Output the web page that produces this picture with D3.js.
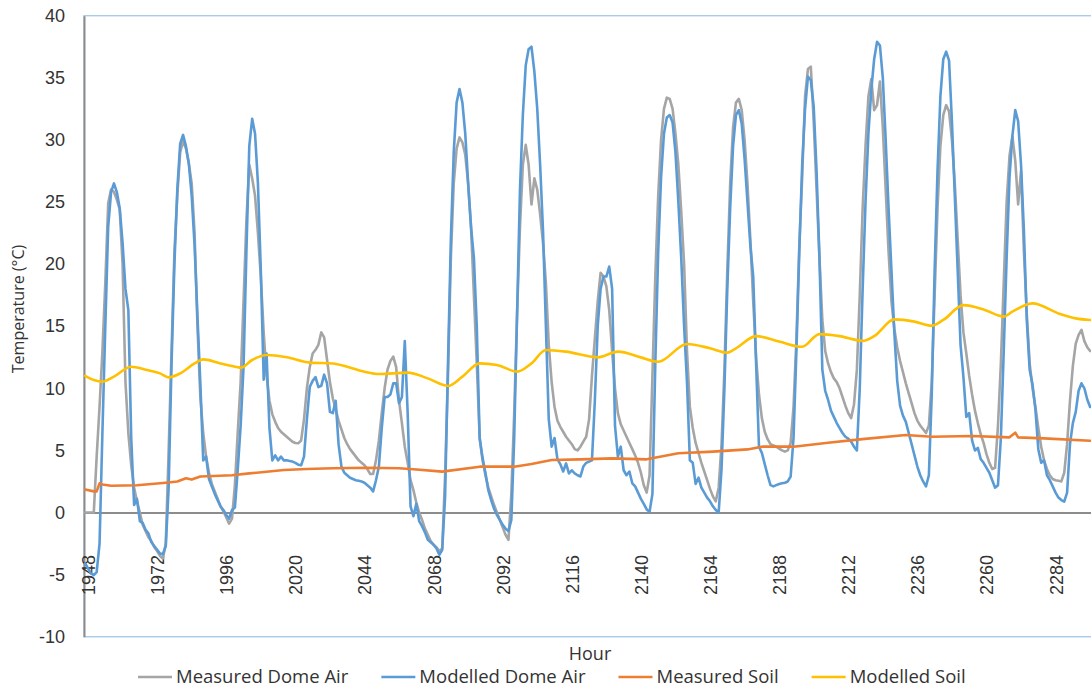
<!DOCTYPE html>
<html>
<head>
<meta charset="utf-8">
<script src="https://cdn.jsdelivr.net/npm/d3@7"></script>
<style>
  html, body { margin: 0; padding: 0; background: #fff; }
  svg { display: block; font-family: "Open Sans", "Segoe UI", "Liberation Sans", sans-serif; }
</style>
</head>
<body>
<svg id="chart" width="1091" height="689"></svg>
<script>
// ---- data -------------------------------------------------------------
// Hourly readings start at this hour; each air value is one hour apart.
const firstHour = 1947;

const hourTicks = [1948, 1972, 1996, 2020, 2044, 2068, 2092, 2116, 2140, 2164, 2188, 2212, 2236, 2260, 2284];
const tempTicks = [-10, -5, 0, 5, 10, 15, 20, 25, 30, 35, 40];

// Measured Dome Air (°C), hours 1947–2296, ten values per row
const measuredAir = [
  0, 0, 0, 0, 4.5, 8.5, 13, 18.5, 24.9, 26,                 // 1947
  25.8, 25.2, 24.4, 20, 10.5, 6.4, 3.8, 2, 0.9, 0,          // 1957
  -1.0, -1.5, -2.0, -2.3, -2.8, -3.1, -3.5, -3.7, -2.5, 5,  // 1967
  13, 21, 25.5, 29, 29.9, 29.3, 28.1, 26.5, 22.5, 15,       // 1977
  9.3, 6.4, 4.5, 3.2, 2.3, 1.7, 1.1, 0.5, 0.1, -0.4,        // 1987
  -0.9, -0.5, 2.2, 6.5, 10.5, 17, 23.5, 28, 26.9, 25.5,     // 1997
  22.5, 19, 14.5, 11, 9, 7.9, 7.3, 6.8, 6.5, 6.3,           // 2007
  6.1, 5.9, 5.7, 5.6, 5.57, 5.8, 7.5, 10, 11.7, 12.8,       // 2017
  13.1, 13.5, 14.5, 14.1, 12.3, 10.5, 9.2, 8.3, 7.4, 6.7,   // 2027
  6.0, 5.5, 5.1, 4.8, 4.5, 4.2, 4.0, 3.8, 3.5, 3.1,         // 2037
  3.1, 4.2, 5.8, 8, 10, 11.5, 12.2, 12.55, 11.7, 9,         // 2047
  7.2, 5.3, 4, 2.6, 1.8, 0.8, 0, -0.6, -1.3, -1.8,          // 2057
  -2.3, -2.6, -2.8, -3.1, -2.9, 3, 11, 20.5, 26.5, 29.3,    // 2067
  30.2, 29.8, 28.8, 26.5, 23, 17.5, 12, 6, 4.2, 3,          // 2077
  2, 1.3, 0.6, 0, -0.6, -1.2, -1.8, -2.2, 1.5, 8,           // 2087
  16, 23, 28, 29.6, 28, 24.8, 26.9, 26, 24, 21.7,           // 2097
  18.5, 13.5, 10.5, 8.5, 7.4, 6.9, 6.5, 6.1, 5.8, 5.5,      // 2107
  5.1, 5.0, 5.3, 5.7, 6.1, 7.5, 11, 14, 17, 19.3,           // 2117
  19, 18.2, 16.3, 13, 10, 8, 7.1, 6.6, 6.1, 5.6,            // 2127
  5.1, 4.6, 4, 3.2, 2.2, 1.6, 3, 11, 19, 25.5,              // 2137
  30, 32.5, 33.4, 33.3, 32.5, 30.5, 28, 24.2, 20, 13,       // 2147
  8.5, 6.8, 5.6, 4.8, 4.0, 3.3, 2.6, 1.9, 1.3, 0.9,         // 2157
  2, 5.5, 11.5, 19.5, 26.5, 31, 33, 33.3, 32.4, 30,         // 2167
  26.5, 22, 17, 12.5, 9.5, 7.6, 6.5, 5.9, 5.5, 5.4,         // 2177
  5.3, 5.15, 5.0, 4.9, 5.0, 5.6, 8.5, 14, 21.5, 27,         // 2187
  33.5, 35.7, 35.9, 31.5, 26, 20.5, 15.5, 13, 12, 11.3,     // 2197
  10.8, 10.5, 10, 9.3, 8.6, 8, 7.6, 8.7, 11.5, 17.5,        // 2207
  24.5, 29.5, 33.5, 34.9, 32.4, 32.8, 34.7, 31, 26, 21,     // 2217
  17, 14.8, 13.3, 12.2, 11.3, 10.4, 9.6, 8.8, 8, 7.4,       // 2227
  7, 6.7, 6.4, 7, 10.5, 17.5, 24.5, 29.5, 32, 32.8,         // 2237
  32.3, 30, 26.5, 22, 17.5, 14.5, 12.8, 11, 9.5, 8.2,       // 2247
  7.2, 6.3, 5.6, 4.7, 4.0, 3.5, 3.6, 7, 12, 18.5,           // 2257
  25, 28.7, 30.3, 28.3, 24.8, 27.5, 21, 16, 12, 10,         // 2267
  8.5, 6.8, 5.3, 4.2, 3.5, 3.0, 2.7, 2.6, 2.55, 2.5,        // 2277
  3.2, 5.5, 9, 11.8, 13.6, 14.3, 14.7, 13.8, 13.3, 13.0     // 2287
];

// Modelled Dome Air (°C), hours 1947–2296
const modelledAir = [
  -4.1, -4.5, -4.9, -5.05, -4.8, -2.5, 6.5, 15, 23, 25.8,   // 1947
  26.5, 25.8, 24.5, 21.7, 18, 16.3, 6, 0.6, 1.1, -0.7,      // 1957
  -0.85, -1.4, -1.7, -2.4, -2.7, -3.0, -3.3, -3.35, -2.7, 2,// 1967
  12, 20, 26, 29.7, 30.4, 29.5, 28.1, 25.5, 21.5, 15.8,     // 1977
  10.4, 4.2, 4.5, 2.7, 2.1, 1.5, 1.0, 0.5, 0.2, -0.2,       // 1987
  -0.5, 0.2, 0.4, 3.5, 7, 11.7, 21, 29.5, 31.7, 30.5,       // 1997
  26.5, 19.5, 10.7, 12.8, 6.8, 4.2, 4.6, 4.2, 4.5, 4.2,     // 2007
  4.2, 4.15, 4.1, 4.0, 3.85, 3.8, 4.5, 7.5, 10.1, 10.6,     // 2017
  10.9, 10.1, 10.2, 11.1, 10.4, 8.1, 8.0, 9.0, 5.5, 3.7,    // 2027
  3.2, 3.0, 2.8, 2.7, 2.6, 2.55, 2.5, 2.4, 2.2, 2.0,        // 2037
  1.7, 2.6, 3.7, 6.8, 9.3, 9.3, 9.5, 10.4, 10.4, 8.8,       // 2047
  9.3, 13.8, 8, 0.5, -0.3, 0.7, -0.7, -1.1, -1.6, -2.2,     // 2057
  -2.4, -2.6, -2.9, -3.4, -3.0, 1.3, 12, 22, 29, 33,        // 2067
  34.1, 33, 30.5, 26.5, 23, 20.5, 15, 6, 4.4, 3.2,          // 2077
  1.8, 1.0, 0.3, -0.2, -0.6, -1.0, -1.3, -1.5, -0.6, 6,     // 2087
  16, 26, 32, 36, 37.3, 37.5, 35.5, 32.5, 28, 22.7,         // 2097
  15, 7.5, 5.3, 6, 4.3, 3.9, 3.3, 3.95, 3.15, 3.4,          // 2107
  3.15, 3.0, 2.9, 3.7, 4.0, 4.1, 4.2, 9, 15, 18,            // 2117
  19, 19, 19.8, 18, 7, 4.5, 5.3, 3.4, 3.0, 3.3,             // 2127
  2.35, 2.1, 1.6, 1.1, 0.7, 0.25, 0.05, 1.5, 12, 21,        // 2137
  27, 30.5, 31.8, 32, 31.4, 29, 25, 20.5, 15, 10.5,         // 2147
  4.2, 4.0, 2.3, 2.8, 2.0, 1.6, 1.2, 0.9, 0.5, 0.2,         // 2157
  0, 3.5, 10, 18, 24.5, 29.5, 32, 32.4, 31.3, 28.5,         // 2167
  25, 21.5, 19, 12, 5.3, 4.8, 3.9, 3.0, 2.2, 2.1,           // 2177
  2.2, 2.3, 2.35, 2.4, 2.5, 2.9, 6, 13, 21, 28,             // 2187
  32.5, 35.1, 34.8, 32.7, 27.5, 20.5, 11.5, 9.8, 9.06, 8.2, // 2197
  7.7, 7.2, 6.8, 6.4, 6.1, 5.95, 5.7, 5.3, 5.0, 10,         // 2207
  18, 25, 30.5, 34, 36.5, 37.9, 37.6, 35, 30, 24.5,         // 2217
  19.5, 14.5, 10.6, 8.6, 7.8, 7.3, 6.4, 5.5, 4.6, 3.7,      // 2227
  3.0, 2.5, 2.1, 3, 9.5, 19.5, 27.5, 33.5, 36.5, 37.1,      // 2237
  36.4, 31.5, 25.5, 19.5, 13.5, 10.9, 7.7, 8.0, 5.8, 5.0,   // 2247
  5.2, 4.3, 4.0, 3.6, 3.2, 2.6, 2.0, 2.2, 6, 13,            // 2257
  20.5, 27, 30.3, 32.4, 31.5, 28, 22.7, 15.5, 11.5, 10.3,   // 2267
  8.3, 5.1, 4.0, 4.2, 3.0, 2.6, 2.1, 1.6, 1.2, 1.0,         // 2277
  0.87, 1.6, 5.5, 7.2, 8.1, 9.8, 10.4, 10, 9.1, 8.5         // 2287
];

// Soil temperatures (°C) as [hour, value] readings
const measuredSoil = [
  [1947, 1.85], [1950, 1.7], [1951, 1.7], [1952, 2.35], [1953, 2.25], [1956, 2.15],
  [1965, 2.2], [1975, 2.4], [1979, 2.5], [1982, 2.75], [1984, 2.65], [1987, 2.9],
  [1998, 3.0], [2004, 3.15], [2010, 3.28], [2016, 3.42], [2024, 3.5], [2033, 3.56],
  [2045, 3.6], [2056, 3.56], [2061, 3.48], [2071, 3.29], [2084, 3.69], [2096, 3.69],
  [2102, 3.9], [2109, 4.23], [2119, 4.28], [2130, 4.36], [2142, 4.28], [2153, 4.77],
  [2165, 4.9], [2177, 5.08], [2182, 5.3], [2188, 5.3], [2193, 5.3], [2205, 5.62],
  [2216, 5.89], [2232, 6.24], [2241, 6.1], [2255, 6.16], [2268, 6.05], [2270, 6.43],
  [2271, 6.05], [2280, 5.97], [2296, 5.78]
];

const modelledSoil = [
  [1947, 11.0], [1950, 10.67], [1953, 10.53], [1957, 10.94], [1963, 11.74], [1968, 11.5],
  [1973, 11.2], [1976, 10.88], [1980, 11.2], [1985, 12.0], [1988, 12.33], [1994, 12.0],
  [2000, 11.7], [2001, 11.66], [2005, 12.28], [2010, 12.68], [2017, 12.5], [2025, 12.07],
  [2033, 12.0], [2038, 11.74], [2044, 11.34], [2049, 11.15], [2059, 11.26], [2066, 10.8],
  [2073, 10.19], [2078, 10.94], [2084, 12.01], [2090, 11.88], [2097, 11.34], [2102, 12.01],
  [2107, 13.08], [2114, 12.95], [2125, 12.49], [2132, 12.95], [2140, 12.49], [2146, 12.14],
  [2156, 13.57], [2164, 13.22], [2170, 12.87], [2173, 13.22], [2180, 14.2], [2188, 13.76],
  [2196, 13.34], [2202, 14.36], [2209, 14.2], [2217, 13.82], [2221, 14.2], [2228, 15.55],
  [2235, 15.37], [2241, 15.04], [2245, 15.5], [2252, 16.7], [2259, 16.35], [2266, 15.77],
  [2269, 16.17], [2276, 16.84], [2285, 16.03], [2291, 15.63], [2296, 15.5]
];

const seriesNames = ["Measured Dome Air", "Modelled Dome Air", "Measured Soil", "Modelled Soil"];

// ---- layout & styles ------------------------------------------------------
const seriesColors = ["#A5A5A5", "#5B9BD5", "#ED7D31", "#FFC000"];
const textColor = "#333333";
const axisColor = "#8C8C8C";
const borderColor = "#A9CBEA";
const plot = { left: 84, right: 1091, top: 15.7, bottom: 636.7 };

const svg = d3.select("#chart");
svg.append("rect").attr("width", 1091).attr("height", 689).attr("fill", "#fff");

const x = d3.scaleLinear().domain([1946.6, 2296.3]).range([plot.left, plot.right]);
const y = d3.scaleLinear().domain([-10, 40]).range([plot.bottom, plot.top]);

// plot-area outline (continues past the right edge of the canvas)
svg.append("rect")
  .attr("x", plot.left).attr("y", plot.top)
  .attr("width", plot.right - plot.left + 20).attr("height", plot.bottom - plot.top)
  .attr("fill", "none").attr("stroke", borderColor).attr("stroke-width", 1.4);

// value axis
const yAxisG = svg.append("g")
  .attr("transform", `translate(${plot.left},0)`)
  .call(d3.axisLeft(y).tickValues(tempTicks).tickFormat(d => String(d)).tickSize(0).tickPadding(19));
yAxisG.select(".domain").attr("stroke", axisColor).attr("stroke-width", 2);
yAxisG.selectAll("text")
  .attr("fill", textColor).style("font-size", "18px");

// category axis crossing at 0 °C, labels sit below it
const labelTop = 555;
const xAxisG = svg.append("g")
  .attr("transform", `translate(0,${y(0)})`)
  .call(d3.axisBottom(x).tickValues(hourTicks).tickFormat(d => String(d)).tickSize(0).tickSizeOuter(0));
xAxisG.select(".domain").attr("stroke", axisColor).attr("stroke-width", 2);
xAxisG.selectAll("text")
  .attr("transform", "rotate(-90)")
  .attr("x", -(labelTop - y(0)))
  .attr("y", 0)
  .attr("dy", "0.36em")
  .attr("text-anchor", "end")
  .attr("fill", textColor)
  .style("font-size", "18px");

// ---- series ---------------------------------------------------------------
svg.append("clipPath").attr("id", "plotClip")
  .append("rect")
  .attr("x", plot.left).attr("y", 0)
  .attr("width", plot.right - plot.left).attr("height", 689);

const hourly = vals => vals.map((v, i) => [firstHour + i, v]);

const straight = d3.line().x(d => x(d[0])).y(d => y(d[1]));
const smooth = d3.line().x(d => x(d[0])).y(d => y(d[1])).curve(d3.curveMonotoneX);

const series = [
  { pts: hourly(measuredAir), gen: straight },
  { pts: hourly(modelledAir), gen: straight },
  { pts: measuredSoil, gen: straight },
  { pts: modelledSoil, gen: smooth }
];

const linesG = svg.append("g").attr("clip-path", "url(#plotClip)");
series.forEach((s, i) => {
  linesG.append("path")
    .datum(s.pts)
    .attr("d", s.gen)
    .attr("fill", "none")
    .attr("stroke", seriesColors[i])
    .attr("stroke-width", 2.6)
    .attr("stroke-linejoin", "round")
    .attr("stroke-linecap", "round");
});

// ---- titles -----------------------------------------------------------------
svg.append("text")
  .attr("transform", "translate(24,309) rotate(-90)")
  .attr("text-anchor", "middle")
  .attr("fill", textColor)
  .style("font-size", "16px")
  .text("Temperature (°C)");

svg.append("text")
  .attr("x", 590).attr("y", 660)
  .attr("text-anchor", "middle")
  .attr("fill", textColor)
  .style("font-size", "18px")
  .text("Hour");

// ---- legend -----------------------------------------------------------------
const legendY = 677;
const legend = svg.append("g");
let lx = 138;
seriesNames.forEach((name, i) => {
  legend.append("line")
    .attr("x1", lx).attr("x2", lx + 34)
    .attr("y1", legendY).attr("y2", legendY)
    .attr("stroke", seriesColors[i]).attr("stroke-width", 2.6);
  const t = legend.append("text")
    .attr("x", lx + 38).attr("y", legendY)
    .attr("dy", "0.35em")
    .attr("fill", textColor)
    .style("font-size", "18.5px")
    .text(name);
  lx += 38 + t.node().getComputedTextLength() + 33;
});
</script>
</body>
</html>
